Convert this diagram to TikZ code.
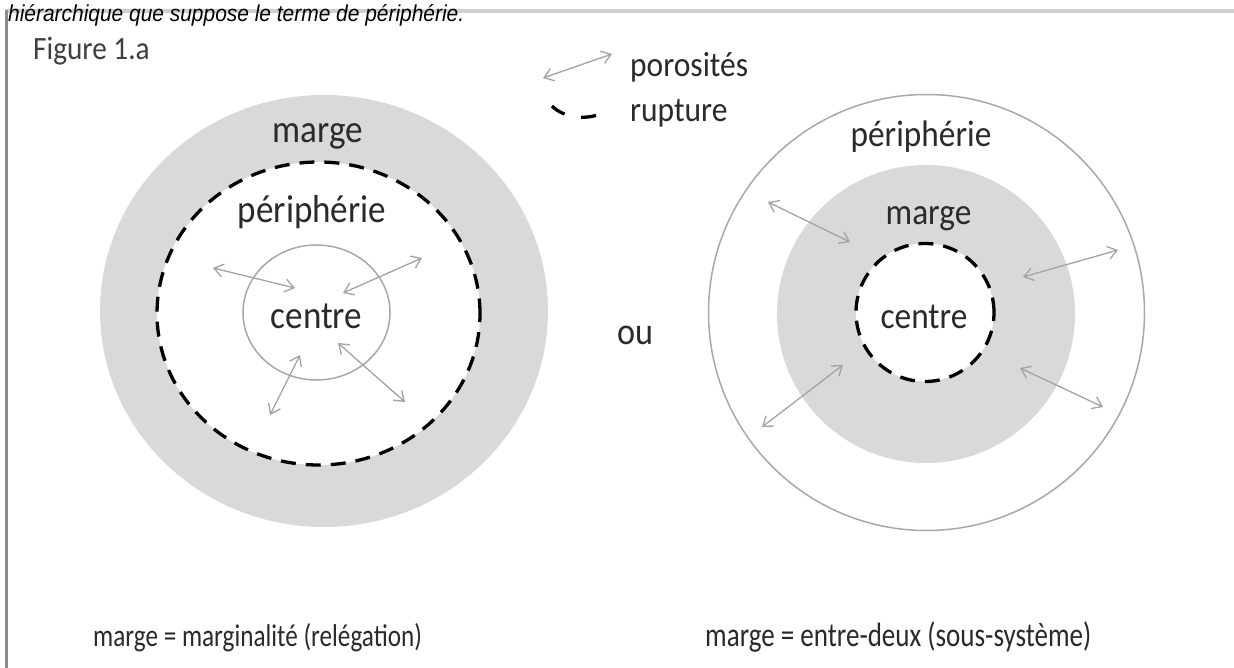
\documentclass[tikz,border=0pt]{standalone}
\usepackage{fontspec}
\setmainfont{Carlito}[FakeStretch=0.9]
\newfontfamily\eqfont{Carlito}[FakeStretch=0.8]
\newfontfamily\topfont{Liberation Sans}[FakeStretch=0.91]
\usetikzlibrary{arrows.meta}
\definecolor{disk}{HTML}{D9D9D9}
\definecolor{thinc}{HTML}{A8A8A8}
\definecolor{poro}{HTML}{A3A3A3}
\definecolor{txt}{HTML}{2A2A2A}
\definecolor{rulec}{HTML}{CFCFCF}
\definecolor{vrulec}{HTML}{8C8C8C}
\tikzset{
  lbl/.style={inner sep=0pt, anchor=base, text=txt, font=\fontsize{39}{44}\selectfont},
  rlbl/.style={lbl, font=\fontsize{37}{42}\selectfont},
  lgd/.style={inner sep=0pt, anchor=base west, text=txt, font=\fontsize{35}{40}\selectfont},
  eqlbl/.style={inner sep=0pt, anchor=base west, text=txt},
  porosite/.style={draw=poro, line width=1.3pt, {Straight Barb[length=9pt,width=13pt]}-{Straight Barb[length=9pt,width=13pt]}},
  rupt/.style={draw=black, line width=3.3pt, dash pattern=on 15pt off 10pt},
  thinring/.style={draw=thinc, line width=1.5pt},
}
\begin{document}
\begin{tikzpicture}[x=1pt,y=-1pt]
\useasboundingbox (0,0) rectangle (1234,668);
\fill[white] (0,0) rectangle (1234,668);
% frame lines
\draw[rulec, line width=4pt] (6,11) -- (1234,11);
\draw[vrulec, line width=2.5pt] (6.5,10) -- (6.5,668);
\node[inner sep=0pt, anchor=base west, font=\topfont\itshape\fontsize{23}{26}\selectfont] (intro) at (8,22) {hiérarchique que suppose le terme de périphérie.};
\node[inner sep=0pt, anchor=base west, text=txt!90!white, font=\fontsize{32.5}{36}\selectfont] (fig) at (33,60) {Figure 1.a};

% legend
\coordinate (la) at (543,78);
\coordinate (lb) at (612,54);
\draw[porosite] (la) -- (lb);
\node[lgd] (lporo) at (630,77) {porosités};
\coordinate (ra) at (552,106);
\coordinate (rb) at (603,112);
\draw[draw=black, line width=3.3pt, dash pattern=on 15pt off 17pt] (ra) .. controls (563,118) and (590,121) .. (rb);
\node[lgd] (lrupt) at (630,122) {rupture};

% left diagram
\fill[disk] (324,311) ellipse[x radius=224pt, y radius=216pt];
\draw[rupt, fill=white] (318.5,313.5) ellipse[x radius=161.5pt, y radius=151.5pt];
\draw[thinring] (316.5,312.5) ellipse[x radius=73.5pt, y radius=67.5pt];
\node[lbl] (Lmarge) at (317.5,143) {marge};
\node[lbl] (Lperi) at (312,223) {périphérie};
\node[lbl] (Lcentre) at (316.5,328) {centre};
\coordinate (L1a) at (213,268); \coordinate (L1b) at (295,288);
\coordinate (L2a) at (422,258); \coordinate (L2b) at (343,293);
\coordinate (L3a) at (300,355); \coordinate (L3b) at (270,415);
\coordinate (L4a) at (338,343); \coordinate (L4b) at (405,402);
\draw[porosite] (L1a) -- (L1b);
\draw[porosite] (L2a) -- (L2b);
\draw[porosite] (L3a) -- (L3b);
\draw[porosite] (L4a) -- (L4b);

% ou
\node[lbl, font=\fontsize{38}{42}\selectfont] (ou) at (635,344) {ou};

% right diagram
\draw[thinring, fill=white] (926.5,312.5) circle[radius=218pt];
\fill[disk] (926,314) circle[radius=149pt];
\draw[rupt, fill=white] (925,312.5) circle[radius=69pt];
\node[rlbl] (Rperi) at (921,147) {périphérie};
\node[rlbl] (Rmarge) at (928.5,225) {marge};
\node[rlbl] (Rcentre) at (924,328) {centre};
\coordinate (R1a) at (768,202); \coordinate (R1b) at (850,242);
\coordinate (R2a) at (1118,250); \coordinate (R2b) at (1023,277);
\coordinate (R3a) at (843,365); \coordinate (R3b) at (762,427);
\coordinate (R4a) at (1020,368); \coordinate (R4b) at (1103,407);
\draw[porosite] (R1a) -- (R1b);
\draw[porosite] (R2a) -- (R2b);
\draw[porosite] (R3a) -- (R3b);
\draw[porosite] (R4a) -- (R4b);

% bottom labels
\node[eqlbl, font=\eqfont\fontsize{31.5}{36}\selectfont] (eqL) at (93,646) {marge = marginalité (relégation)};
\node[eqlbl, font=\eqfont\fontsize{33.8}{38}\selectfont] (eqR) at (705,646) {marge = entre-deux (sous-système)};
\end{tikzpicture}
\end{document}
